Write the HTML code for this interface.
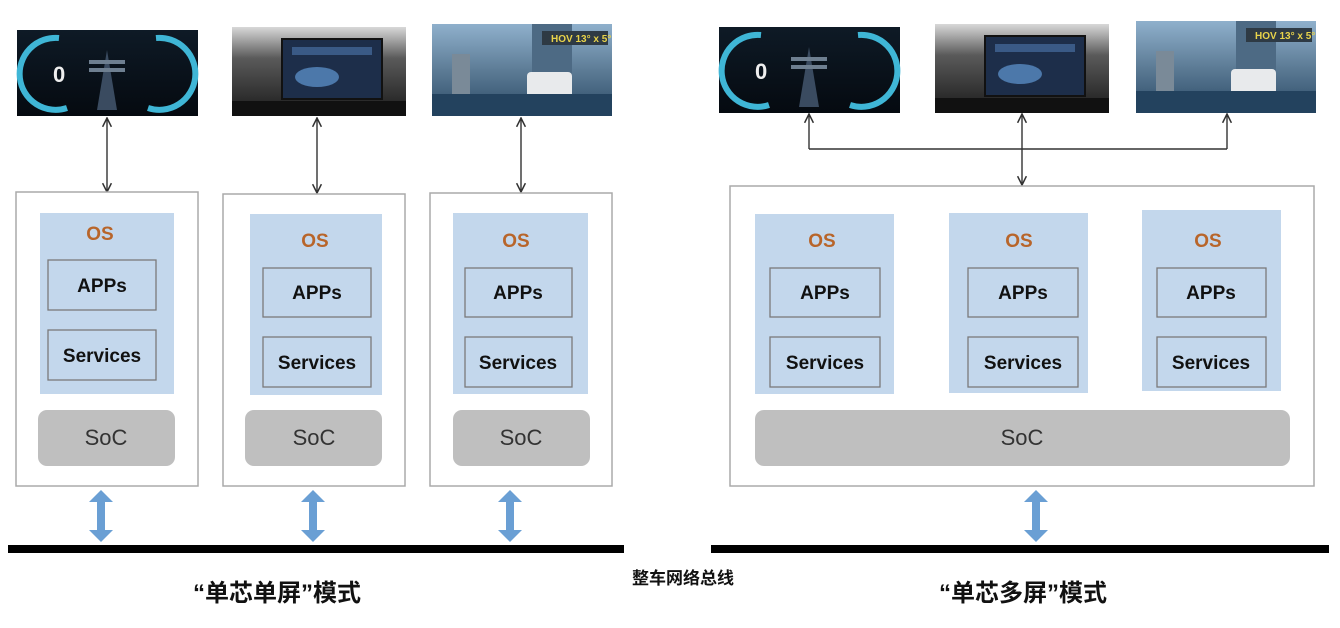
<!DOCTYPE html>
<html><head><meta charset="utf-8"><style>
html,body{margin:0;padding:0;background:#fff;}
svg{display:block;}
text{font-family:"Liberation Sans","Noto Sans CJK SC",sans-serif;}
</style></head><body>
<svg width="1340" height="628" viewBox="0 0 1340 628" xmlns="http://www.w3.org/2000/svg">
<defs>
  <marker id="ah" viewBox="0 0 10 10" refX="9" refY="5" markerWidth="11" markerHeight="11" orient="auto-start-reverse" markerUnits="userSpaceOnUse">
    <path d="M1,1 L9,5 L1,9" fill="none" stroke="#333" stroke-width="1.4"/>
  </marker>
  <linearGradient id="dashbg" x1="0" y1="0" x2="0" y2="1"><stop offset="0" stop-color="#0e1a26"/><stop offset="1" stop-color="#050a10"/></linearGradient>
  <linearGradient id="carbg" x1="0" y1="0" x2="0" y2="1"><stop offset="0" stop-color="#d8d8d8"/><stop offset="0.35" stop-color="#5a5a5a"/><stop offset="1" stop-color="#1a1a1a"/></linearGradient>
  <linearGradient id="roadbg" x1="0" y1="0" x2="0" y2="1"><stop offset="0" stop-color="#8fb0cc"/><stop offset="0.5" stop-color="#5d7c96"/><stop offset="1" stop-color="#2b4a66"/></linearGradient>
  <g id="dash">
    <rect x="0" y="0" width="181" height="86" fill="url(#dashbg)"/>
    <path d="M42,8 A36,36 0 1,0 50,78" fill="none" stroke="#3fb6d6" stroke-width="6"/>
    <path d="M139,8 A36,36 0 1,1 131,78" fill="none" stroke="#3fb6d6" stroke-width="6"/>
    <text x="36" y="52" font-size="22" font-weight="bold" fill="#eee">0</text>
    <polygon points="80,80 90,20 100,80" fill="#3a4b60"/>
    <rect x="72" y="30" width="36" height="4" fill="#6e7f90"/>
    <rect x="72" y="38" width="36" height="4" fill="#6e7f90"/>
  </g>
  <g id="car">
    <rect x="0" y="0" width="174" height="89" fill="url(#carbg)"/>
    <rect x="50" y="12" width="100" height="60" fill="#1d2e4a" stroke="#111" stroke-width="2"/>
    <rect x="60" y="20" width="80" height="8" fill="#3a5a86"/>
    <ellipse cx="85" cy="50" rx="22" ry="10" fill="#4c78aa"/>
    <rect x="0" y="74" width="174" height="15" fill="#111"/>
  </g>
  <g id="road">
    <rect x="0" y="0" width="180" height="92" fill="url(#roadbg)"/>
    <rect x="100" y="0" width="40" height="60" fill="#4d6a84"/>
    <rect x="20" y="30" width="18" height="40" fill="#7a8a98"/>
    <rect x="110" y="7" width="66" height="14" fill="#2e3a44"/>
    <text x="119" y="18" font-size="10" font-weight="bold" fill="#e8d34a">HOV 13° x 5°</text>
    <rect x="95" y="48" width="45" height="28" rx="4" fill="#e8eaec"/>
    <rect x="0" y="70" width="180" height="22" fill="#23425e"/>
  </g>
</defs>

<use href="#dash" x="17" y="30"/>
<use href="#car" x="232" y="27"/>
<use href="#road" x="432" y="24"/>
<use href="#dash" x="719" y="27"/>
<use href="#car" x="935" y="24"/>
<use href="#road" x="1136" y="21"/>

<g stroke="#333" stroke-width="1.4" fill="none">
  <line x1="107" y1="118" x2="107" y2="192" marker-start="url(#ah)" marker-end="url(#ah)"/>
  <line x1="317" y1="118" x2="317" y2="193" marker-start="url(#ah)" marker-end="url(#ah)"/>
  <line x1="521" y1="118" x2="521" y2="192" marker-start="url(#ah)" marker-end="url(#ah)"/>
  <line x1="809" y1="149" x2="1227" y2="149"/>
  <line x1="809" y1="149" x2="809" y2="114" marker-end="url(#ah)"/>
  <line x1="1022" y1="149" x2="1022" y2="114" marker-end="url(#ah)"/>
  <line x1="1227" y1="149" x2="1227" y2="114" marker-end="url(#ah)"/>
  <line x1="1022" y1="149" x2="1022" y2="185" marker-end="url(#ah)"/>
</g>

<g fill="#fff" stroke="#aaa" stroke-width="1.5">
  <rect x="16" y="192" width="182" height="294"/>
  <rect x="223" y="194" width="182" height="292"/>
  <rect x="430" y="193" width="182" height="293"/>
  <rect x="730" y="186" width="584" height="300"/>
</g>

<g fill="#c3d7ec">
  <rect x="40" y="213" width="134" height="181"/>
  <rect x="250" y="214" width="132" height="181"/>
  <rect x="453" y="213" width="135" height="181"/>
  <rect x="755" y="214" width="139" height="180"/>
  <rect x="949" y="213" width="139" height="180"/>
  <rect x="1142" y="210" width="139" height="181"/>
</g>
<g fill="#c3d7ec" stroke="#7a7a7a" stroke-width="1.3">
  <rect x="48" y="260" width="108" height="50"/><rect x="48" y="330" width="108" height="50"/>
  <rect x="263" y="268" width="108" height="49"/><rect x="263" y="337" width="108" height="50"/>
  <rect x="465" y="268" width="107" height="49"/><rect x="465" y="337" width="107" height="50"/>
  <rect x="770" y="268" width="110" height="49"/><rect x="770" y="337" width="110" height="50"/>
  <rect x="968" y="268" width="110" height="49"/><rect x="968" y="337" width="110" height="50"/>
  <rect x="1157" y="268" width="109" height="49"/><rect x="1157" y="337" width="109" height="50"/>
</g>
<g fill="#b8652a" font-size="19" font-weight="bold" text-anchor="middle">
  <text x="100" y="240">OS</text><text x="315" y="247">OS</text><text x="516" y="247">OS</text>
  <text x="822" y="247">OS</text><text x="1019" y="247">OS</text><text x="1208" y="247">OS</text>
</g>
<g fill="#111" font-size="19" font-weight="bold" text-anchor="middle">
  <text x="102" y="292">APPs</text><text x="102" y="362">Services</text>
  <text x="317" y="299">APPs</text><text x="317" y="369">Services</text>
  <text x="518" y="299">APPs</text><text x="518" y="369">Services</text>
  <text x="825" y="299">APPs</text><text x="825" y="369">Services</text>
  <text x="1023" y="299">APPs</text><text x="1023" y="369">Services</text>
  <text x="1211" y="299">APPs</text><text x="1211" y="369">Services</text>
</g>

<g fill="#bfbfbf">
  <rect x="38" y="410" width="137" height="56" rx="9"/>
  <rect x="245" y="410" width="137" height="56" rx="9"/>
  <rect x="453" y="410" width="137" height="56" rx="9"/>
  <rect x="755" y="410" width="535" height="56" rx="9"/>
</g>
<g fill="#333" font-size="22" text-anchor="middle">
  <text x="106" y="445">SoC</text><text x="314" y="445">SoC</text><text x="521" y="445">SoC</text><text x="1022" y="445">SoC</text>
</g>

<g fill="#6a9fd4">
  <path id="ba" d="M101,490 L113,502 L105,502 L105,530 L113,530 L101,542 L89,530 L97,530 L97,502 L89,502 Z"/>
  <use href="#ba" x="212"/>
  <use href="#ba" x="409"/>
  <use href="#ba" x="935"/>
</g>

<rect x="8" y="545" width="616" height="8" fill="#000"/>
<rect x="711" y="545" width="618" height="8" fill="#000"/>

<text x="277" y="601" font-size="24" font-weight="bold" fill="#111" text-anchor="middle">“单芯单屏”模式</text>
<text x="683" y="584" font-size="17" font-weight="bold" fill="#111" text-anchor="middle">整车网络总线</text>
<text x="1023" y="601" font-size="24" font-weight="bold" fill="#111" text-anchor="middle">“单芯多屏”模式</text>
</svg>
</body></html>
